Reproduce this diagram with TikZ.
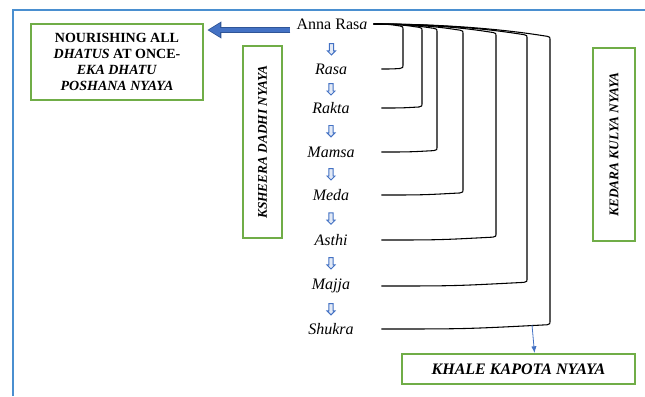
\documentclass[tikz,border=0pt]{standalone}
\usepackage{fontspec}
\setmainfont{Liberation Serif}
\usetikzlibrary{calc, positioning, arrows.meta, shapes.arrows}

\definecolor{frameblue}{HTML}{4A8FD0}
\definecolor{boxgreen}{HTML}{70AD47}
\definecolor{arrowblue}{HTML}{4472C4}
\definecolor{arrowedge}{HTML}{2F5597}

\tikzset{
  nyayabox/.style={draw=boxgreen, line width=1.5pt, align=center, inner sep=2pt,
    font=\bfseries\itshape\fontsize{10}{12}\selectfont},
  dhatu/.style={minimum width=75pt, inner sep=2pt, font=\itshape\fontsize{12}{14}\selectfont},
  downarr/.style={single arrow, shape border rotate=270, draw=arrowblue, line width=0.7pt,
    fill=arrowblue!15, minimum height=8.5pt, inner sep=1.2pt, single arrow head extend=1.5pt,
    single arrow head indent=0pt},
  bracket/.style={black, line width=0.8pt},
}

\begin{document}
\begin{tikzpicture}[x=0.75pt, y=-0.75pt]
  \useasboundingbox (0,0) rectangle (645,396);
  % page frame
  \draw[frameblue, line width=1.5pt] (13,396) -- (13,10) -- (645,10);

  % the four nyaya boxes
  \node[nyayabox, font=\bfseries\fontsize{10.5}{12}\selectfont, minimum width=129pt, minimum height=57pt]
    (nourish) at (117,62) {NOURISHING ALL\\ \textit{DHATUS} AT ONCE-\\ \textit{EKA DHATU}\\ \textit{POSHANA NYAYA}};
  \node[nyayabox, rotate=90, minimum width=144pt, minimum height=29pt] (ksheera) at (262.5,142) {KSHEERA DADHI NYAYA};
  \node[nyayabox, rotate=90, minimum width=145pt, minimum height=31.5pt] (kedara) at (614,144.5) {KEDARA KULYA NYAYA};
  \node[nyayabox, font=\bfseries\itshape\fontsize{12}{14}\selectfont, minimum width=175pt, minimum height=22.5pt]
    (khale) at (518.5,369) {KHALE KAPOTA NYAYA};

  % Anna Rasa and the arrow to the left box
  \node[font=\fontsize{12}{14}\selectfont, inner sep=4.5pt] (anna) at (332,24) {Anna Ras\textit{a}};
  \draw[arrowedge, line width=5pt, -{Triangle[length=10.5pt, width=12pt]}, shorten >=2.5pt]
    ($(anna.west)+(0,6)$) -- ($(anna.west -| nourish.east)+(0,6)$);
  \draw[arrowblue, line width=3.5pt, -{Triangle[length=8.5pt, width=9.5pt]}, shorten >=3.6pt, shorten <=0.6pt]
    ($(anna.west)+(0,6)$) -- ($(anna.west -| nourish.east)+(0,6)$);

  % dhatus one below the other, each fed by its own bracket from Anna Rasa
  \foreach \n/\t/\y/\x [remember=\n as \prev (initially anna)] in
    {rasa/Rasa/69/403, rakta/Rakta/108/422, mamsa/Mamsa/152/437, meda/Meda/195/463,
     asthi/Asthi/240/496, majja/Majja/286/527, shukra/Shukra/329/550} {
    \node[dhatu] (\n) at (331,\y) {\t};
    \path (\prev) -- node[downarr] {} (\n);
    \pgfmathsetmacro{\ty}{24+0.07*(\x-375)}   % top corner of the bracket
    \pgfmathsetmacro{\by}{\y-0.025*(\x-381)}  % bottom corner of the bracket
    \pgfmathsetmacro{\cx}{\x-0.4*(\x-375)}
    \pgfmathsetmacro{\dx}{\x-0.5*(\x-381)}
    \draw[bracket] (anna.east) .. controls (\cx,24) and (\x-8,\ty-0.5) .. (\x-3,\ty)
      .. controls (\x,\ty+0.5) .. (\x,\ty+5) -- (\x,\by-5)
      .. controls (\x,\by-0.5) .. (\x-3,\by) .. controls (\dx,\y) .. (\n.east);
  }

  % Khale Kapota arrow
  \coordinate (kkstart) at (532,325);
  \draw[arrowblue, line width=0.6pt, -{Latex[length=5pt, width=4pt]}] (kkstart) -- ($(khale.north)+(16,0)$);
\end{tikzpicture}
\end{document}
